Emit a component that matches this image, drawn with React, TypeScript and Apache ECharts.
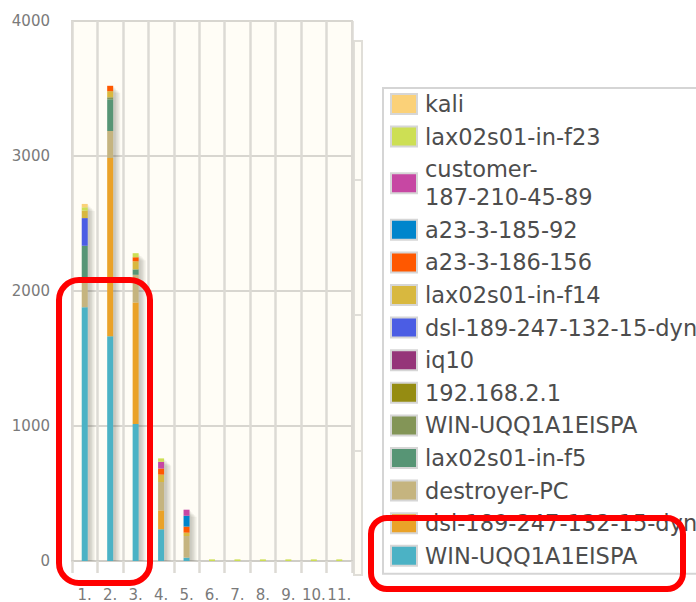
import React, { useEffect, useRef } from 'react';
import * as echarts from 'echarts';

const categories = ['1.', '2.', '3.', '4.', '5.', '6.', '7.', '8.', '9.', '10.', '11.'];

// series listed bottom of stack first
const hostNames = [
  'WIN-UQQ1A1EISPA',
  'dsl-189-247-132-15-dyn',
  'destroyer-PC',
  'lax02s01-in-f5',
  'WIN-UQQ1A1EISPA',
  '192.168.2.1',
  'iq10',
  'dsl-189-247-132-15-dyn',
  'lax02s01-in-f14',
  'a23-3-186-156',
  'a23-3-185-92',
  'customer-187-210-45-89',
  'lax02s01-in-f23',
  'kali',
];
const hostColors = [
  '#4bb2c5', '#EAA228', '#c5b47f', '#579575', '#839557', '#958c12', '#953579',
  '#4b5de4', '#d8b83f', '#ff5800', '#0085cc', '#c747a3', '#cddf54', '#FBD178',
];

const winCyan = [1880, 1665, 1015, 235, 25, 0, 0, 0, 0, 0, 0];
const dslOrange = [0, 1320, 900, 140, 0, 0, 0, 0, 0, 0, 0];
const destroyerPC = [190, 200, 205, 210, 160, 0, 0, 0, 0, 0, 0];
const laxF5 = [265, 235, 40, 0, 0, 0, 0, 0, 0, 0, 0];
const winOlive = [0, 15, 0, 0, 0, 0, 0, 0, 0, 0, 0];
const ip192 = [0, 0, 0, 0, 0, 0, 0, 0, 0, 0, 0];
const iq10 = [0, 0, 0, 0, 0, 0, 0, 0, 0, 0, 0];
const dslBlue = [205, 0, 0, 0, 0, 0, 0, 0, 0, 0, 0];
const laxF14 = [55, 45, 60, 55, 25, 0, 0, 0, 0, 0, 0];
const a23_186 = [0, 40, 30, 45, 45, 0, 0, 0, 0, 0, 0];
const a23_185 = [0, 0, 0, 0, 80, 0, 0, 0, 0, 0, 0];
const customer = [0, 0, 0, 50, 45, 0, 0, 0, 0, 0, 0];
const laxF23 = [25, 0, 30, 25, 0, 12, 12, 12, 12, 12, 12];
const kali = [25, 0, 0, 0, 0, 0, 0, 0, 0, 0, 0];

const seriesValues = [
  winCyan, dslOrange, destroyerPC, laxF5, winOlive, ip192, iq10,
  dslBlue, laxF14, a23_186, a23_185, customer, laxF23, kali,
];

const yMin = 0;
const yMax = 4000;
const yStep = 1000;

const FONT = 'DejaVu Sans';

export default function App() {
  const ref = useRef<HTMLDivElement>(null);

  useEffect(() => {
    if (!ref.current) return;
    const chart = echarts.init(ref.current, undefined, { renderer: 'svg' });

    const seriesIds = hostNames.map((n, i) => `${i + 1}:${n}`);
    const labelOf: Record<string, string> = {};
    seriesIds.forEach((id, i) => {
      labelOf[id] = hostNames[i] === 'customer-187-210-45-89' ? 'customer-\n187-210-45-89' : hostNames[i];
    });

    const totals = categories.map((_, c) => seriesValues.reduce((s, arr) => s + arr[c], 0));

    const barSeries = seriesValues.map((vals, i) => ({
      type: 'bar',
      name: seriesIds[i],
      stack: 'hosts',
      data: vals,
      barWidth: 6,
      z: 3,
      itemStyle: { color: hostColors[i] },
    }));

    const shadowSeries = {
      type: 'custom',
      name: 'shadow',
      z: 1,
      clip: true,
      silent: true,
      data: totals.map((t, i) => [i, t]),
      encode: { x: 0, y: 1 },
      renderItem: (params: any, api: any) => {
        const idx = api.value(0);
        const tot = api.value(1);
        const top = api.coord([idx, tot]);
        const base = api.coord([idx, 0]);
        const children: any[] = [];
        for (let k = 1; k <= 5; k++) {
          const o = 1.41 * k;
          children.push({
            type: 'rect',
            shape: { x: top[0] - 3 + o, y: top[1] + o, width: 6, height: base[1] - top[1] },
            style: { fill: 'rgba(60,55,40,0.065)' },
          });
        }
        return { type: 'group', children };
      },
    };

    const legendData = seriesIds
      .map((id, i) => ({
        name: id,
        itemStyle: { color: hostColors[i], borderColor: '#d6d6d6', borderWidth: 2 },
      }))
      .reverse();

    chart.setOption({
      animation: false,
      backgroundColor: '#ffffff',
      textStyle: { fontFamily: FONT },
      grid: {
        left: 72,
        top: 21,
        width: 280,
        height: 541,
        show: true,
        backgroundColor: '#fffdf6',
        borderColor: '#dad8d2',
        borderWidth: 2,
        containLabel: false,
      },
      xAxis: {
        type: 'category',
        data: categories,
        boundaryGap: true,
        axisLine: { show: true, lineStyle: { color: '#cfcdc7', width: 2 } },
        axisTick: { show: true, length: 12, lineStyle: { color: '#dcdad4', width: 2.5 } },
        splitLine: { show: true, interval: 0, lineStyle: { color: '#dcdad4', width: 2.5 } },
        axisLabel: { fontSize: 15, color: '#7a7a7a', margin: 26, fontFamily: FONT, interval: 0 },
      },
      yAxis: {
        type: 'value',
        min: yMin,
        max: yMax,
        interval: yStep,
        axisLine: { show: false },
        axisTick: { show: false },
        splitLine: { show: true, lineStyle: { color: '#d8d6d0', width: 2 } },
        axisLabel: {
          fontSize: 15,
          color: '#7a7a7a',
          margin: 22,
          fontFamily: FONT,
          formatter: (v: number) => String(v),
        },
      },
      legend: {
        orient: 'vertical',
        left: 383,
        top: 88,
        padding: [2, 40, 4, 7],
        itemWidth: 26,
        itemHeight: 20,
        itemGap: 4.6,
        icon: 'rect',
        selectedMode: false,
        backgroundColor: '#ffffff',
        borderColor: '#d5d5d5',
        borderWidth: 2,
        textStyle: { fontSize: 22.5, color: '#4d4d4d', fontFamily: FONT, lineHeight: 28, padding: [0, 0, 0, 3] },
        formatter: (name: string) => labelOf[name] ?? name,
        data: legendData,
      },
      graphic: [
        {
          type: 'rect',
          z: -5,
          shape: { x: 354, y: 41, width: 8, height: 534 },
          style: { fill: '#fffdf6', stroke: '#e0ded8', lineWidth: 2 },
        },
        ...[180, 315, 451].map((y) => ({
          type: 'line',
          z: -4,
          shape: { x1: 354, y1: y, x2: 361, y2: y },
          style: { stroke: '#e0ded8', lineWidth: 2 },
        })),
        {
          type: 'rect',
          z: 100,
          shape: { x: 59, y: 280, width: 91, height: 303, r: 20 },
          style: { fill: 'none', stroke: '#ff0000', lineWidth: 6 },
        },
        {
          type: 'rect',
          z: 100,
          shape: { x: 371, y: 518, width: 312, height: 71, r: 16 },
          style: { fill: 'none', stroke: '#ff0000', lineWidth: 6 },
        },
      ],
      series: [shadowSeries, ...barSeries],
    });

    return () => chart.dispose();
  }, []);

  return (
    <div
      ref={ref}
      style={{ position: 'fixed', left: 0, top: 0, width: 696, height: 602, background: '#fff' }}
    />
  );
}
